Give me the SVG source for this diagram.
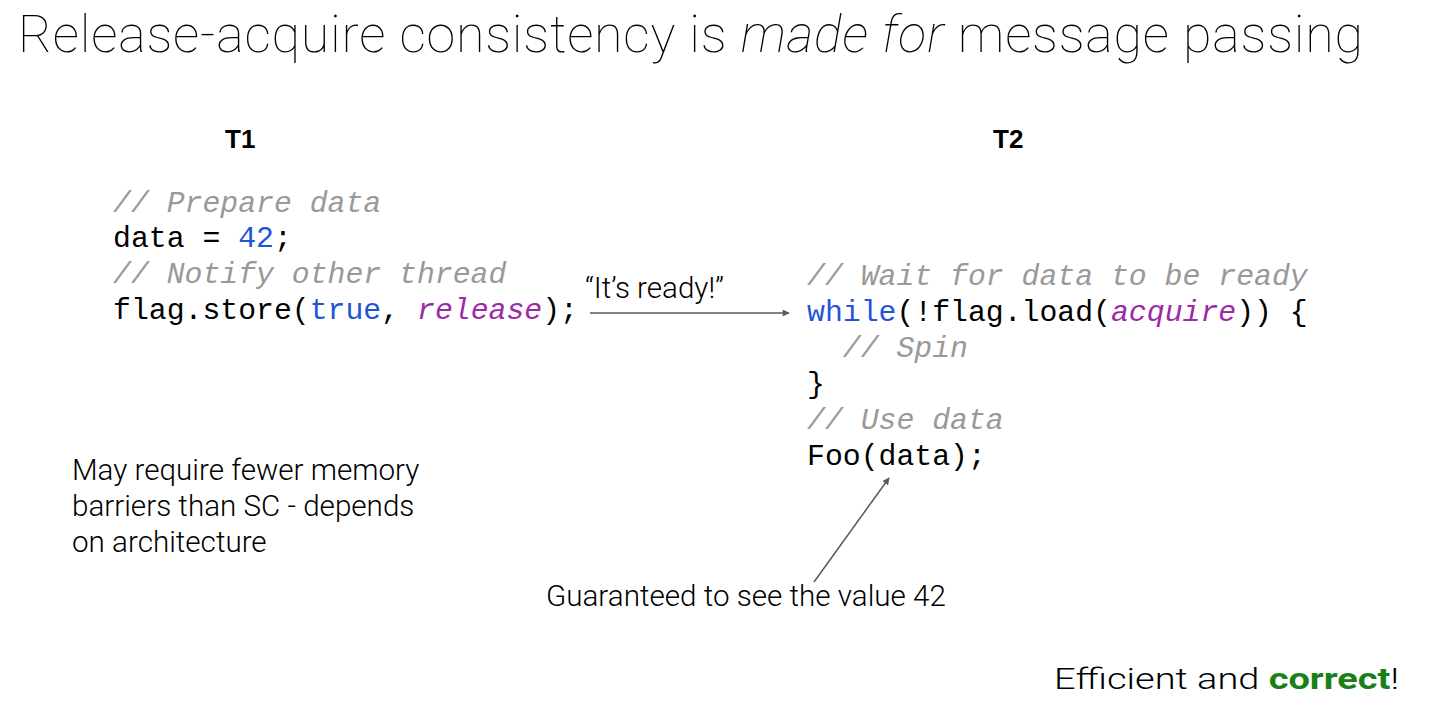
<svg xmlns="http://www.w3.org/2000/svg" width="1431" height="710" viewBox="0 0 1431 710">
  <style>
    .title { font-family: Roboto, "Liberation Sans", sans-serif; font-weight: 100; font-size: 52px; fill: #000; }
    .head { font-family: "Liberation Sans", Arial, sans-serif; font-weight: 700; font-size: 26px; fill: #000; }
    .note { font-family: Roboto, "Liberation Sans", sans-serif; font-weight: 300; font-size: 29.6px; fill: #000; }
    .code { font-family: "Liberation Mono", "Courier New", monospace; font-size: 29.8px; fill: #000; white-space: pre; }
    .cm { fill: #999999; font-style: italic; }
    .kw { fill: #1f55d6; }
    .mo { fill: #9c2aa8; font-style: italic; }
    .ok { fill: #188018; font-weight: 700; }
    .conn { stroke: #595959; stroke-width: 1.5; fill: none; marker-end: url(#arrow); }
  </style>
  <defs>
    <marker id="arrow" viewBox="0 0 10 10" refX="9" refY="5" markerWidth="9" markerHeight="7" markerUnits="userSpaceOnUse" orient="auto">
      <path d="M0,0 L10,5 L0,10 z" fill="#595959"/>
    </marker>
  </defs>
  <rect width="1431" height="710" fill="#fff"/>

  <text class="title" x="18" y="52" textLength="1345">Release-acquire consistency is <tspan font-style="italic">made for</tspan> message passing</text>

  <g id="t1">
    <text class="head" x="225" y="148">T1</text>
    <text class="code" x="113" y="212"><tspan class="cm">// Prepare data</tspan></text>
    <text class="code" x="113" y="247">data = <tspan class="kw">42</tspan>;</text>
    <text class="code" x="113" y="283"><tspan class="cm">// Notify other thread</tspan></text>
    <text class="code" x="113" y="319">flag.store(<tspan class="kw">true</tspan>, <tspan class="mo">release</tspan>);</text>
  </g>

  <g id="t2">
    <text class="head" x="993" y="148">T2</text>
    <text class="code" x="807" y="285"><tspan class="cm">// Wait for data to be ready</tspan></text>
    <text class="code" x="807" y="321"><tspan class="kw">while</tspan>(!flag.load(<tspan class="mo">acquire</tspan>)) {</text>
    <text class="code" x="807" y="357"><tspan class="cm">  // Spin</tspan></text>
    <text class="code" x="807" y="393">}</text>
    <text class="code" x="807" y="429"><tspan class="cm">// Use data</tspan></text>
    <text class="code" x="807" y="465">Foo(data);</text>
  </g>

  <g id="label-ready">
    <text class="note" x="585" y="298" textLength="139" lengthAdjust="spacingAndGlyphs">“It’s ready!”</text>
  </g>

  <g id="note-barriers">
    <text class="note" x="72" y="480">May require fewer memory</text>
    <text class="note" x="72" y="516">barriers than SC - depends</text>
    <text class="note" x="72" y="552">on architecture</text>
  </g>

  <g id="note-guarantee">
    <text class="note" x="546" y="606">Guaranteed to see the value 42</text>
  </g>

  <g id="summary">
    <text class="note" x="1054" y="689" font-size="37.5" textLength="345" lengthAdjust="spacingAndGlyphs">Efficient and <tspan class="ok">correct</tspan>!</text>
  </g>

  <g id="connectors">
    <line class="conn" x1="590" y1="313" x2="789" y2="313"/>
    <line class="conn" x1="814" y1="582" x2="889" y2="478"/>
  </g>
</svg>
